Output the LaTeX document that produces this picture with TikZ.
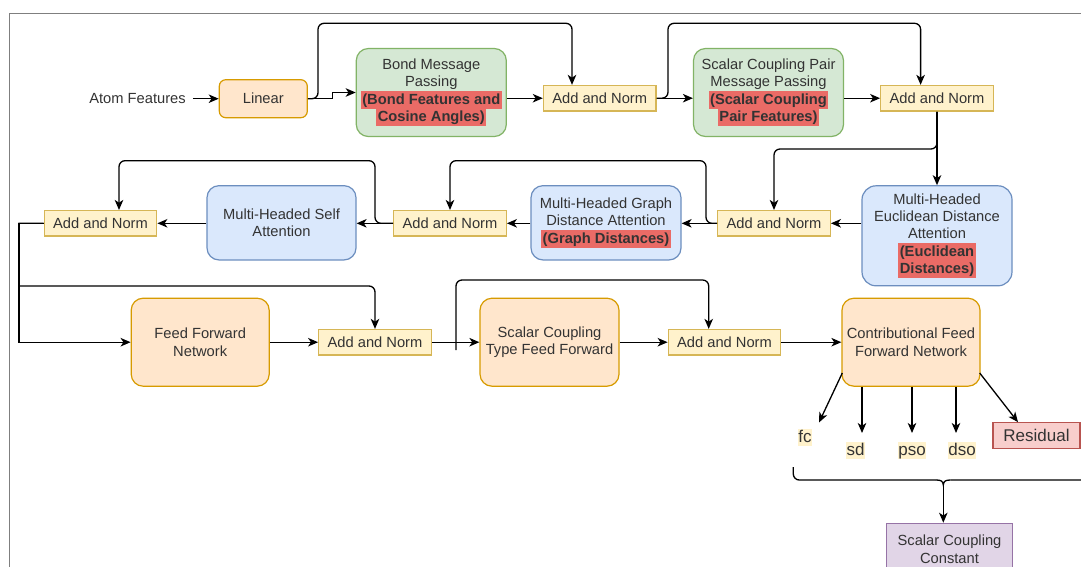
\documentclass[tikz,border=0pt]{standalone}
\usepackage{fontspec}
\setmainfont{Liberation Sans}
\usetikzlibrary{arrows.meta,calc}
\definecolor{txt}{HTML}{333333}
\definecolor{orF}{HTML}{FFE6CC}\definecolor{orD}{HTML}{D79B00}
\definecolor{grF}{HTML}{D5E8D4}\definecolor{grD}{HTML}{82B366}
\definecolor{blF}{HTML}{DAE8FC}\definecolor{blD}{HTML}{6C8EBF}
\definecolor{ylF}{HTML}{FFF2CC}\definecolor{ylD}{HTML}{D6B656}
\definecolor{rdF}{HTML}{F8CECC}\definecolor{rdD}{HTML}{B85450}
\definecolor{puF}{HTML}{E1D5E7}\definecolor{puD}{HTML}{9673A6}
\definecolor{hlred}{HTML}{EA6B66}
\definecolor{framec}{HTML}{7F7F7F}
\newcommand\hlt[1]{{\setlength{\fboxsep}{0pt}\colorbox{hlred}{\rule[-4.4pt]{0pt}{17.4pt}\kern1.5pt\bfseries #1\kern1.5pt}}}
\tikzset{
  box/.style={draw, line width=1.2pt, align=center, inner sep=0pt},
  rbox/.style={box, rounded corners=12pt},
  orangebox/.style={rbox, fill=orF, draw=orD},
  greenbox/.style={rbox, fill=grF, draw=grD, minimum width=150pt, minimum height=88pt},
  bluebox/.style={rbox, fill=blF, draw=blD, minimum width=150pt},
  anbox/.style={box, fill=ylF, draw=ylD, minimum width=112.6pt, minimum height=25.5pt},
  lbl/.style={fill=ylF, inner xsep=0.5pt, inner ysep=0pt, text height=13pt, text depth=3.7pt, font=\fontsize{17}{20}\selectfont},
  conn/.style={draw=black, line width=1.3pt, ->},
  rc/.style={rounded corners=6pt},
}
\begin{document}
\begin{tikzpicture}[x=1pt, y=-1pt, font=\fontsize{14.7}{17.4}\selectfont, text=txt,
  >={Stealth[length=10pt,width=8.5pt,inset=2.8pt]}]
\useasboundingbox (0,0) rectangle (1081,566);
\clip (0,0) rectangle (1081,566);
\fill[white] (0,0) rectangle (1081,566);
% frame
\draw[framec, line width=1pt] (9.6,620) -- (9.6,13.5) -- (1120,13.5);

% row 1
\node[inner sep=0pt] (atom) at (137.5,98.7) {Atom Features};
\node[orangebox, rounded corners=6.5pt, minimum width=88pt, minimum height=38pt] (lin) at (263.3,98.7) {Linear};
\node[greenbox] (bond) at (431.3,92.5) {Bond Message\\Passing\\\hlt{(Bond Features and}\\\hlt{Cosine Angles)}};
\node[anbox] (an1) at (599.7,98.2) {Add and Norm};
\node[greenbox] (scp) at (768.5,92.5) {Scalar Coupling Pair\\Message Passing\\\hlt{(Scalar Coupling}\\\hlt{Pair Features)}};
\node[anbox] (an2) at (937,98.2) {Add and Norm};

% row 2
\node[bluebox, rounded corners=14pt, minimum height=100pt] (euc) at (937,235.8) {Multi-Headed\\Euclidean Distance\\Attention\\\hlt{(Euclidean}\\\hlt{Distances)}};
\node[anbox] (an3) at (774,223.3) {Add and Norm};
\node[bluebox, minimum height=74.3pt] (gda) at (606,222.8) {Multi-Headed Graph\\Distance Attention\\\hlt{(Graph Distances)}};
\node[anbox] (an4) at (450,223.3) {Add and Norm};
\node[bluebox, minimum height=74.3pt, minimum width=149pt] (msa) at (281.5,222.8) {Multi-Headed Self\\Attention};
\node[anbox] (an5) at (100.5,223.3) {Add and Norm};

% row 3
\node[orangebox, minimum width=138pt, minimum height=88pt] (ffn) at (200.2,342.2) {Feed Forward\\Network};
\node[anbox] (an6) at (375,342.2) {Add and Norm};
\node[orangebox, minimum width=139pt, minimum height=88pt] (sct) at (549.5,342.2) {Scalar Coupling\\Type Feed Forward};
\node[anbox] (an7) at (724.5,342.2) {Add and Norm};
\node[orangebox, minimum width=138pt, minimum height=88pt] (cff) at (911,342.2) {Contributional Feed\\Forward Network};

% outputs
\node[lbl] (fc) at (805,437.5) {fc};
\node[lbl] (sd) at (855.5,450.5) {sd};
\node[lbl] (pso) at (912,450.5) {pso};
\node[lbl] (dso) at (962,450.5) {dso};
\node[box, fill=rdF, draw=rdD, minimum width=87pt, minimum height=25.5pt, font=\fontsize{17}{20}\selectfont] (res) at (1036.5,435.5) {Residual};
\node[box, fill=puF, draw=puD, minimum width=125.6pt, minimum height=52pt] (scc) at (949.5,549.3) {Scalar Coupling\\Constant};

% connectors row 1
\draw[conn] ([xshift=7pt]atom.east) -- (lin.west);
\draw[conn] (lin.east) -- ++(24.4,0) |- (bond.west);
\draw[conn,rc] (lin.east) -| (318,23.3) -| ([xshift=-27.7pt]an1.north);
\draw[conn] (bond.east |- an1.west) -- (an1.west);
\draw[conn] (an1.east) -- (scp.west |- an1.east);
\draw[conn,rc] (an1.east) -| (668,23.3) -| ([xshift=-16.4pt]an2.north);
\draw[conn] (scp.east |- an2.west) -- (an2.west);
\draw[conn] (an2.south) -- (euc.north);
\draw[conn,rc] (an2.south) -- (937,149) -| (an3.north);

% row 2
\draw[conn] (euc.west |- an3.east) -- (an3.east);
\draw[conn] (an3.west) -- (gda.east |- an3.west);
\draw[conn,rc] (an3.west) -| (706,160.7) -| (an4.north);
\draw[conn] (gda.west |- an4.east) -- (an4.east);
\draw[conn] (an4.west) -- (msa.east |- an4.west);
\draw[conn,rc] (an4.west) -| (375,160.7) -| ([xshift=18.5pt]an5.north);
\draw[conn] (msa.west |- an5.east) -- (an5.east);

% row 3
\draw[conn] (an5.west) -| (19,342.2) -- (ffn.west);
\draw[conn] (an5.west) [sharp corners] -| (19,286) [rounded corners=6pt] -| (an6.north);
\draw[conn] (ffn.east) -- (an6.west);
\draw[conn] (an6.east) -- (sct.west);
\coordinate (tail) at (456,350);
\draw[conn,rc] (tail) -- (456,280) -| ([xshift=-15.8pt]an7.north);
\draw[conn] (sct.east) -- (an7.west);
\draw[conn] (an7.east) -- (cff.west);

% outputs
\coordinate (fcS) at (842.3,373);
\coordinate (fcE) at (819,422.5);
\draw[conn] (fcS) -- (fcE);
\coordinate (sdE) at (862,433);
\draw[conn] (cff.south -| sdE) -- (sdE);
\coordinate (psoE) at (912,433);
\draw[conn] (cff.south -| psoE) -- (psoE);
\coordinate (dsoE) at (956,433);
\draw[conn] (cff.south -| dsoE) -- (dsoE);
\coordinate (resS) at (979.7,373);
\draw[conn] (resS) -- ([xshift=-18.5pt]res.north);

% brace
\draw[line width=1.3pt, rounded corners=6pt] (793.3,467) -- (793.3,480) -- (936,480);
\draw[line width=1.3pt] (936,480) .. controls (941,480) and (943,481) .. (943.3,485)
   .. controls (943.6,481) and (945.6,480) .. (950.6,480);
\draw[line width=1.3pt, rounded corners=6pt] (950.6,480) -- (1093.3,480) -- (1093.3,467);
\coordinate (bt) at (943.3,485);
\draw[conn] (bt) -- (bt |- scc.north);
\end{tikzpicture}
\end{document}
